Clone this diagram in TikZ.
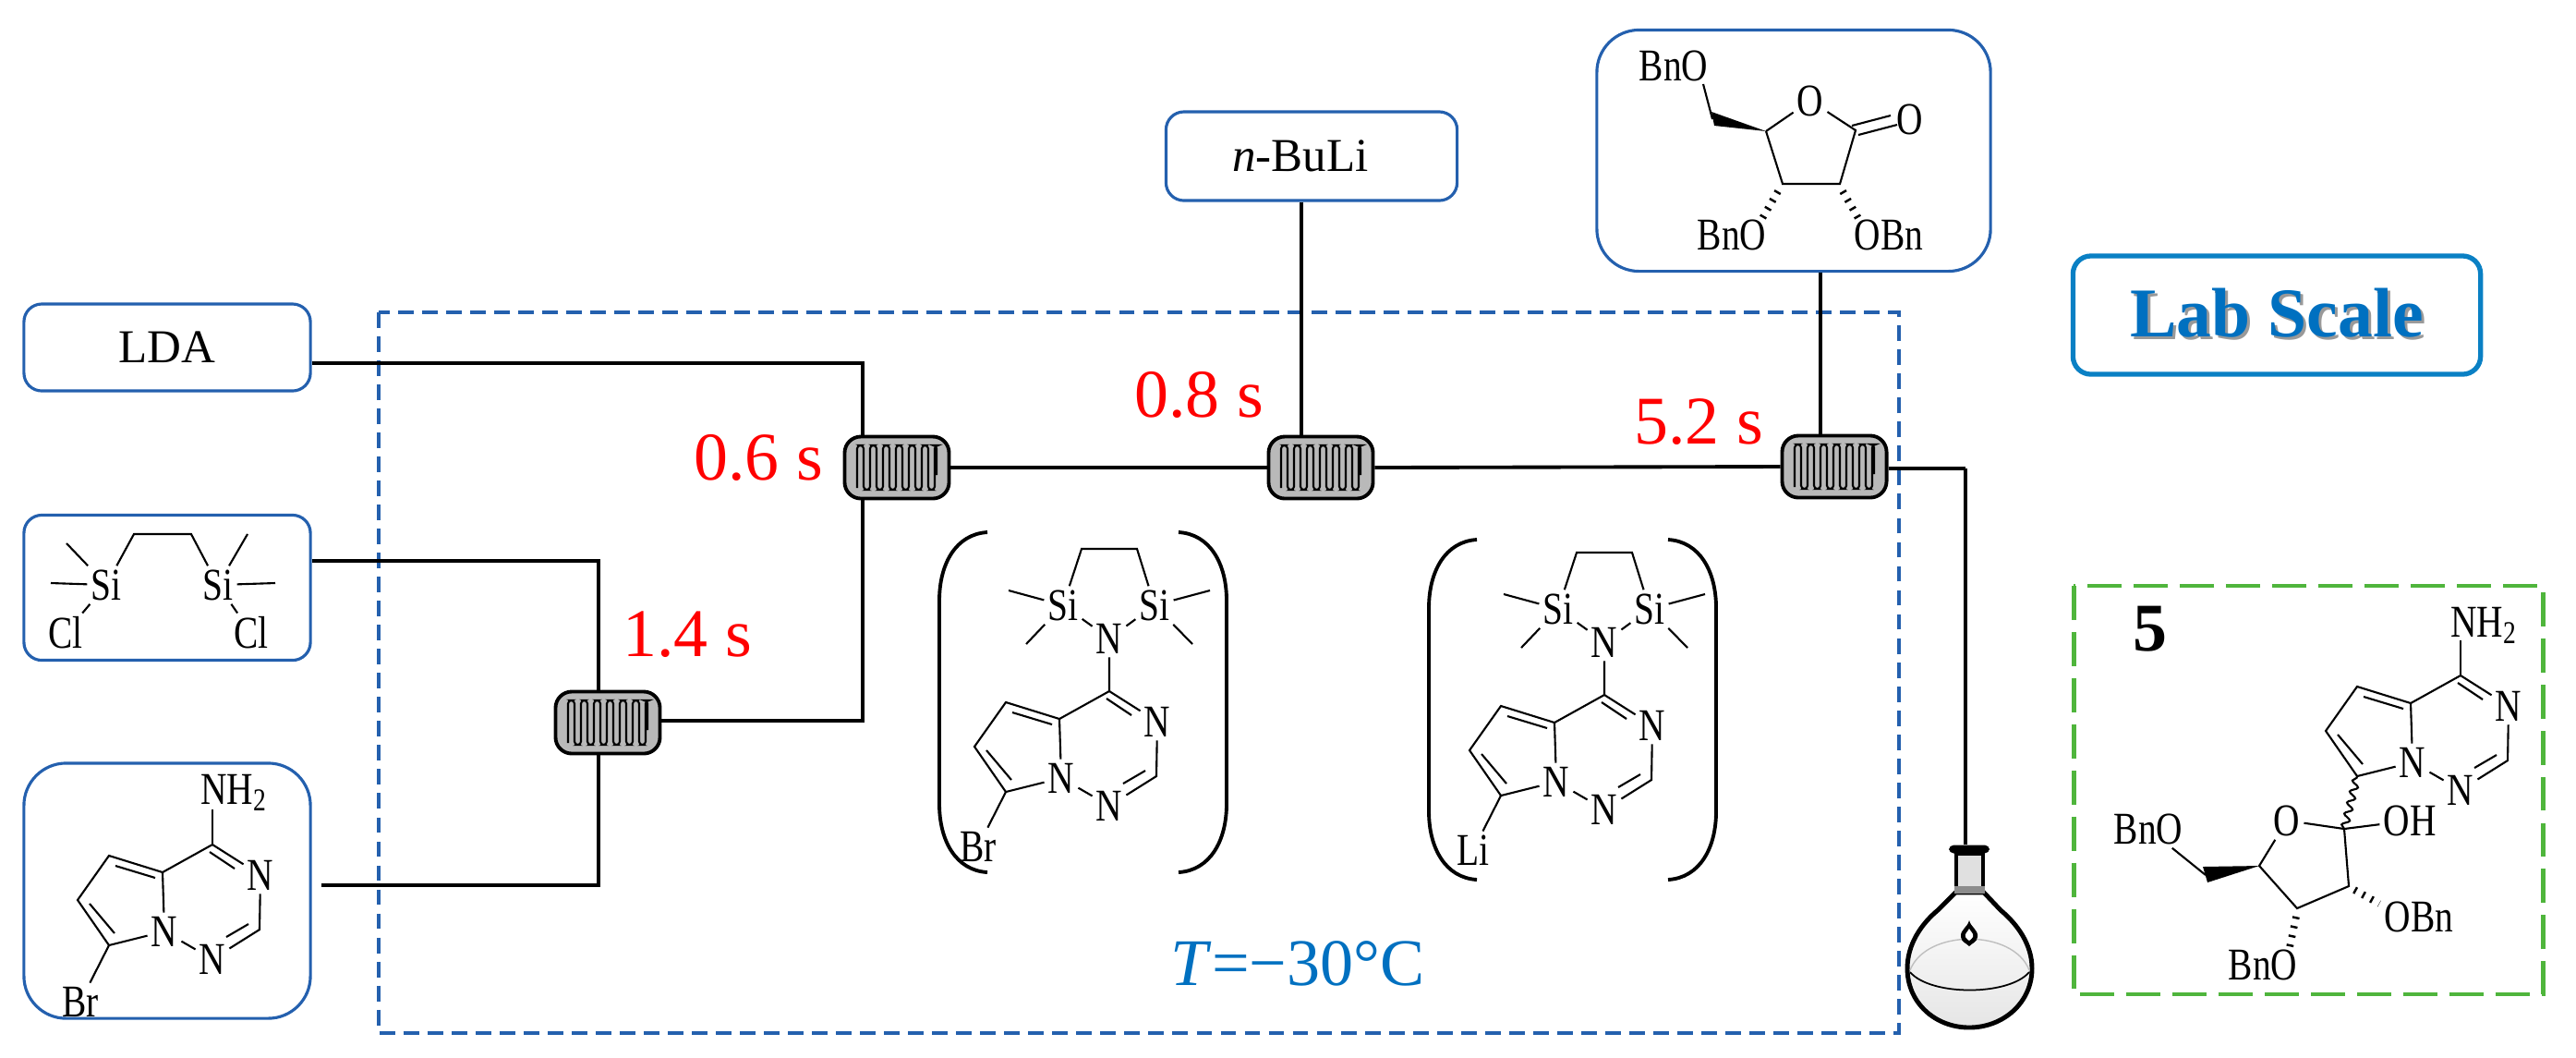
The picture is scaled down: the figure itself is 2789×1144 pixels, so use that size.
\documentclass[tikz,border=0pt]{standalone}
\usepackage{fontspec}
\setmainfont{Liberation Serif}
\newfontfamily\atomfont[FakeStretch=0.8]{Liberation Serif}
\usetikzlibrary{calc,decorations.pathmorphing}
\definecolor{fblue}{HTML}{2460AE}
\definecolor{lblue}{HTML}{0A80C4}
\definecolor{tblue}{HTML}{0070C0}
\definecolor{fgreen}{HTML}{4FB53C}
\definecolor{fgrey}{HTML}{B9B9B9}

\begin{document}
\begin{tikzpicture}[
  x=0.01cm, y=-0.01cm,
  atom/.style={font=\atomfont\fontsize{14}{14}\selectfont, inner sep=1pt},
  bond/.style={line width=0.6pt},
  hashbond/.style={line width=2.2pt, dash pattern=on 0.7pt off 2.2pt},
  srcbox/.style={draw=fblue, line width=0.9pt, rounded corners=5.5pt, inner sep=0pt,
                 font=\fontsize{14.5}{15}\selectfont},
  bigbox/.style={srcbox, rounded corners=13pt},
  frame/.style={draw=fblue, line width=1.1pt, dash pattern=on 4.8pt off 2.6pt},
  flow/.style={line width=1.1pt},
  mixer/.style={draw, fill=fgrey, line width=1.1pt, rounded corners=5pt, inner sep=0pt,
                minimum width=1.13cm, minimum height=0.67cm},
  coil/.style={line width=0.6pt, rounded corners=1pt},
  restime/.style={text=red, font=\fontsize{21}{22}\selectfont, inner sep=0pt},
  brace/.style={line width=1.1pt},
  core/.pic={
    \coordinate (c4) at (0,0);
    \node[atom] (n3) at (52,33) {N};
    \coordinate (c2) at (51,92);
    \node[atom] (n1) at (0,124) {N};
    \node[atom] (n5) at (-52,94) {N};
    \coordinate (c8a) at (-54,30);
    \coordinate (c8) at (-112,12);
    \coordinate (c7) at (-146,60);
    \coordinate (c6) at (-112,109);
    \draw[bond] (c4) -- (n3) -- (c2) -- (n1) -- (n5) -- (c8a) -- (c4);
    \draw[bond] (c8a) -- (c8) -- (c7) -- (c6) -- (n5);
    \draw[bond] (-3,8) -- (24,26);
    \draw[bond] (39,86) -- (15,100);
    \draw[bond] (-62,36) -- (-105,23);
    \draw[bond] (-133,64) -- (-106,96);
  },
  silyl/.pic={
    \coordinate (c4) at (0,0);
    \node[atom] (n) at (0,-57) {N};
    \node[atom] (sia) at (-50,-93) {Si};
    \node[atom] (sib) at (49,-93) {Si};
    \coordinate (cha) at (-30,-154);
    \coordinate (chb) at (30,-154);
    \draw[bond] (c4) -- (n) -- (sia) -- (cha) -- (chb) -- (sib) -- (n);
    \draw[bond] (sia) -- (-109,-109);
    \draw[bond] (sia) -- (-90,-51);
    \draw[bond] (sib) -- (109,-109);
    \draw[bond] (sib) -- (90,-51);
  },
  braces/.pic={
    \draw[brace] (0,0) .. controls (-34,2) and (-52,34) .. (-52,74) -- (-52,294)
      .. controls (-52,334) and (-34,366) .. (0,368);
    \draw[brace] (207,0) .. controls (241,2) and (259,34) .. (259,74) -- (259,294)
      .. controls (259,334) and (241,366) .. (207,368);
  },
]
\useasboundingbox (0,0) rectangle (2789,1144);

% ---------------- the frames ----------------
\draw[frame] (410,338) rectangle (2056,1118);
\draw[draw=fgreen, line width=1.4pt, dash pattern=on 10.5pt off 3.7pt] (2245,634) rectangle (2753,1076);

% ---------------- the feeds ----------------
\node[srcbox, minimum width=3.1cm, minimum height=0.94cm] (lda) at (181,376) {LDA};
\node[srcbox, minimum width=3.1cm, minimum height=1.57cm] (dis) at (181,636) {};
\node[bigbox, minimum width=3.1cm, minimum height=2.76cm] (brfeed) at (181,964) {};
\node[srcbox, minimum width=3.15cm, minimum height=0.96cm] (buli) at (1420,169) {\textit{n}-BuLi\hspace*{0.24cm}};
\node[bigbox, minimum width=4.26cm, minimum height=2.61cm] (lac) at (1942,163) {};
\node[draw=lblue, line width=1.5pt, rounded corners=5.5pt, inner sep=0pt,
      minimum width=4.41cm, minimum height=1.28cm] (scale) at (2465,341) {};
\node[text=black!40, font=\bfseries\fontsize{21.5}{22}\selectfont, inner sep=0pt] (scaleb) at (2468,342) {Lab Scale};
\node[text=tblue, font=\bfseries\fontsize{21.5}{22}\selectfont, inner sep=0pt] (scalet) at (2465,339) {Lab Scale};

% ---------------- the mixers ----------------
\node[mixer] (m1) at (971,506) {};
\node[mixer] (m2) at (658,782) {};
\node[mixer] (m3) at (1430,506) {};
\node[mixer] (m4) at (1986,505) {};
\foreach \m in {m1,m2,m3,m4}
  \draw[coil, shift={(\m)}] (-43,22) -- (-43,-24)
    \foreach \i in {0,2,...,10} { -- ({-36+7*\i},-24) -- ({-36+7*\i},24) -- ({-29+7*\i},24) -- ({-29+7*\i},-24) }
    -- (43,-24) -- (43,8);

% ---------------- the lines ----------------
\coordinate (j1) at (934,393);
\coordinate (j2) at (648,607);
\coordinate (j3) at (648,958);
\coordinate (j4) at (934,780);
\coordinate (j5) at (2128,507);
\coordinate (j6) at (1409,300);
\coordinate (j7) at (1971,300);
\draw[flow] (lda.east |- j1) -- (j1) -- (j1 |- m1.north);
\draw[flow] (j1 |- m1.south) -- (j4) -- (m2.east |- j4);
\draw[flow] (dis.east |- j2) -- (j2) -- (j2 |- m2.north);
\draw[flow] (348,958) -- (j3) -- (j3 |- m2.south);
\draw[flow] (m1.east) -- (m3.west);
\draw[flow] (m3.east) -- (m4.west);
\draw[flow] (j6 |- buli.south) -- (j6 |- m3.north);
\draw[flow] (j7 |- lac.south) -- (j7 |- m4.north);
\draw[flow] (m4.east |- j5) -- (j5);

\node[restime] (t1) at (821,495) {0.6 s};
\node[restime] (t2) at (744,687) {1.4 s};
\node[restime] (t3) at (1298,427) {0.8 s};
\node[restime] (t4) at (1839,457) {5.2 s};
\node[text=tblue, font=\fontsize{20.5}{22}\selectfont, inner sep=0pt] (temp) at (1405,1043) {\textit{T}=−30°C};

% ---------------- the disilane ----------------
\node[atom] (si1) at (115,633) {Si};
\node[atom] (si2) at (236,633) {Si};
\node[atom] (cl1) at (71,685) {Cl};
\node[atom] (cl2) at (272,685) {Cl};
\draw[bond] (cl1) -- (si1) -- (145,578) -- (207,578) -- (si2) -- (cl2);
\draw[bond] (si1) -- (72,588);
\draw[bond] (si1) -- (55,631);
\draw[bond] (si2) -- (268,578);
\draw[bond] (si2) -- (298,631);

% ---------------- the bromide and the intermediates ----------------
\pic (br0) at (230,914) {core};
\node[atom, anchor=west] (nh0) at (213,858) {NH\textsubscript{2}};
\node[atom] (br0x) at (87,1084) {Br};
\draw[bond] (br0c4) -- (230,876);
\draw[bond] (br0c6) -- (br0x);

\pic (br1) at (1201,748) {core};
\pic (si3) at (1201,748) {silyl};
\node[atom] (br1x) at (1059,916) {Br};
\draw[bond] (br1c6) -- (br1x);
\pic (brk1) at (1069,576) {braces};

\pic (li1) at (1737,752) {core};
\pic (si4) at (1737,752) {silyl};
\node[atom] (li1x) at (1595,920) {Li};
\draw[bond] (li1c6) -- (li1x);
\pic (brk2) at (1599,584) {braces};

% ---------------- the lactone ----------------
\node[atom] (o1) at (1812,71) {BnO};
\node[atom] (o2) at (1960,109) {O};
\node[atom] (o3) at (2068,129) {O};
\node[atom] (o4) at (1875,254) {BnO};
\node[atom] (o5) at (2045,254) {OBn};
\coordinate (la) at (1912,142);
\coordinate (lb) at (1930,199);
\coordinate (lc) at (1992,199);
\coordinate (ld) at (2009,141);
\coordinate (le) at (1854,129);
\draw[bond] (la) -- (o2) -- (ld) -- (lc) -- (lb) -- (la);
\draw[bond] (le) -- (1844,91);
\fill (la) -- (1853,121) -- (1856,136) -- cycle;
\draw[bond] (2005,136) -- (2047,125);
\draw[bond] (2012,146) -- (2054,135);
\draw[hashbond] (1925,207) -- (1907,238);
\draw[hashbond] (1995,207) -- (2013,238);

% ---------------- the product ----------------
\node[font=\bfseries\fontsize{21}{22}\selectfont, inner sep=0pt] (num) at (2328,681) {5};
\pic (pr) at (2664,731) {core};
\node[atom, anchor=west] (nh1) at (2649,677) {NH\textsubscript{2}};
\draw[bond] (prc4) -- (2664,693);
\node[atom] (p1) at (2609,888) {OH};
\node[atom] (p2) at (2476,888) {O};
\node[atom] (p3) at (2326,897) {BnO};
\node[atom] (p4) at (2619,992) {OBn};
\node[atom] (p5) at (2450,1044) {BnO};
\coordinate (pa) at (2538,897);
\coordinate (pb) at (2543,959);
\coordinate (pc) at (2487,983);
\coordinate (pd) at (2446,937);
\coordinate (pe) at (2388,947);
\draw[bond] (p1) -- (pa) -- (pb) -- (pc) -- (pd) -- (p2) -- (pa);
\draw[bond] (p3) -- (pe);
\fill (pd) -- (2385,938) -- (2390,955) -- cycle;
\draw[bond, decorate, decoration={snake, segment length=3.5pt, amplitude=1.1pt}] (pa) -- (prc6);
\draw[hashbond] (2549,963) -- (2576,978);
\draw[hashbond] (2486,992) -- (2479,1025);

% ---------------- the flask ----------------
\draw[line width=1.4pt, top color=white, bottom color=black!10]
  (2117,966) -- (2098,985) .. controls (2080,1000) and (2065,1022) .. (2065,1048)
  .. controls (2065,1085) and (2095,1112) .. (2132,1112)
  .. controls (2169,1112) and (2200,1085) .. (2200,1048)
  .. controls (2200,1022) and (2184,1000) .. (2166,985) -- (2148,966) -- cycle;
\draw[black!25, line width=0.4pt] (2068,1050) .. controls (2085,1005) and (2180,1005) .. (2197,1050);
\draw[line width=0.5pt] (2068,1052) .. controls (2090,1078) and (2175,1078) .. (2197,1052);
\draw[line width=1.2pt, fill=black!12] (2118,924) rectangle (2147,963);
\fill[black!45] (2116,959) rectangle (2149,967);
\node[fill=black, rounded corners=1.5pt, inner sep=0pt, minimum width=0.44cm, minimum height=0.09cm] (flask) at (2132,919) {};
\draw[flow] (j5) -- (j5 |- flask.north);
\fill (2132,996) .. controls (2134,1004) and (2142,1006) .. (2141,1014)
  .. controls (2140,1020) and (2136,1020) .. (2132,1024)
  .. controls (2128,1020) and (2124,1020) .. (2123,1014)
  .. controls (2122,1006) and (2130,1004) .. (2132,996) -- cycle;
\fill[white] (2132,1005) .. controls (2134,1009) and (2137,1010) .. (2136,1014)
  .. controls (2135,1017) and (2133,1016) .. (2132,1018)
  .. controls (2131,1016) and (2129,1017) .. (2128,1014)
  .. controls (2127,1010) and (2130,1009) .. (2132,1005) -- cycle;

\end{tikzpicture}
\end{document}
